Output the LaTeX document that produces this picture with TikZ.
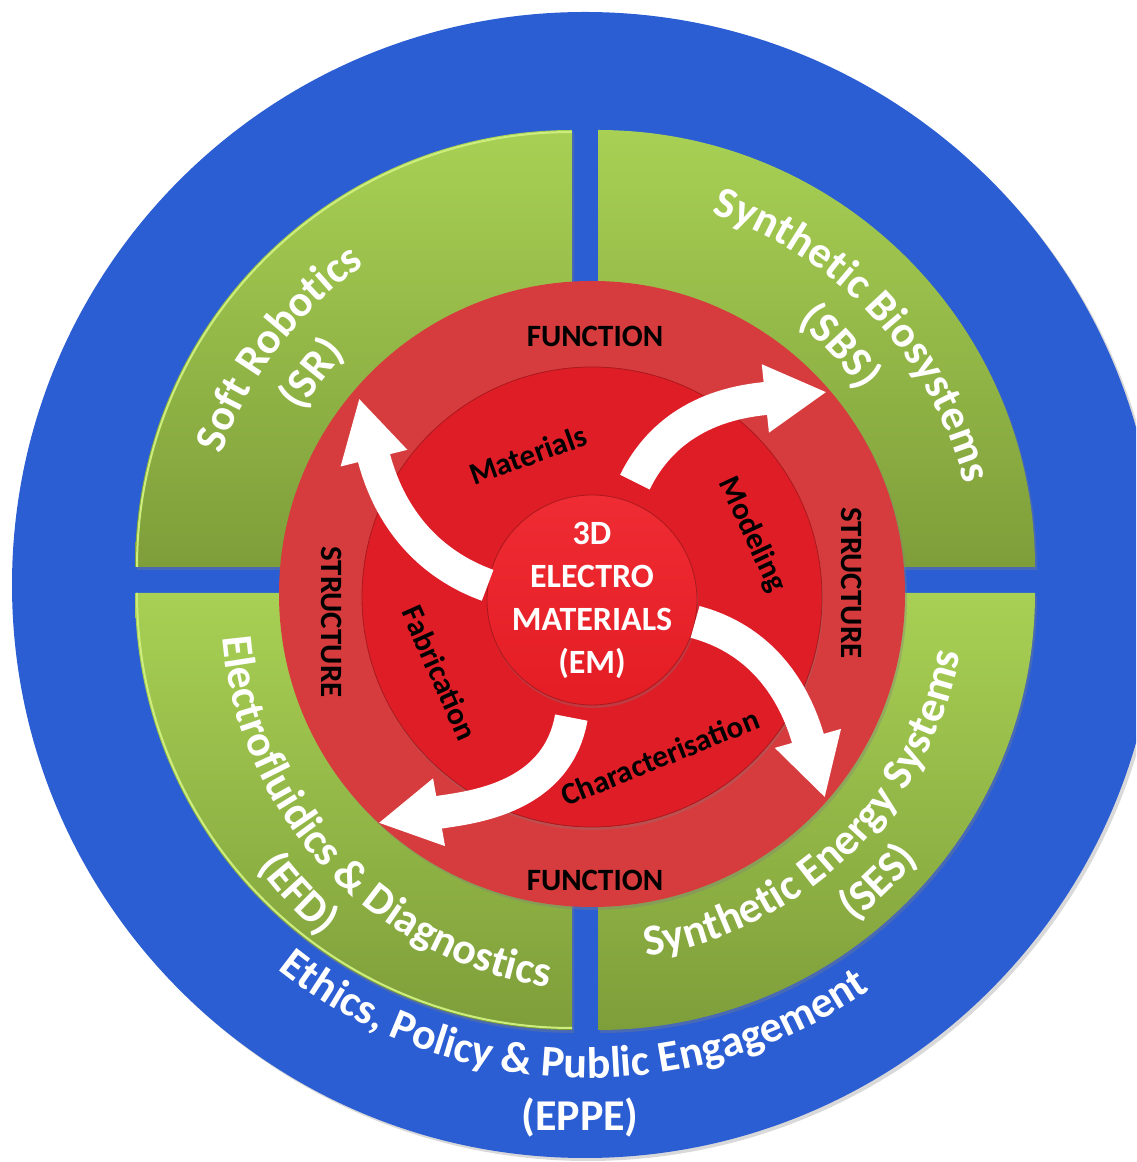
\documentclass[tikz,border=0pt]{standalone}
\usepackage{fontspec}
\setmainfont{Carlito}
\usetikzlibrary{arrows.meta,decorations.text,shadows}

\definecolor{ringblue}{RGB}{43,93,211}
\definecolor{leafhi}{RGB}{168,208,84}
\definecolor{leaflo}{RGB}{126,158,58}
\definecolor{leafedge}{RGB}{205,238,125}
\definecolor{redout}{RGB}{214,60,61}
\definecolor{redmid}{RGB}{222,29,38}
\definecolor{redcore}{RGB}{238,30,38}
\definecolor{redrim}{RGB}{170,25,30}

\newcommand\ringfont{\fontsize{44}{44}\selectfont\bfseries}
% centre, radius, start angle, end angle, text
\newcommand\ringtext[5]{%
  \path[decorate,decoration={text along path,text align=center,
    text color=white,text={|\ringfont|#5}}]
    (#1) ++(#3:#2) arc[start angle=#3,end angle=#4,radius=#2];
}

\begin{document}
\begin{tikzpicture}[x=1pt,y=1pt,
  leaf/.style={top color=leafhi, bottom color=leaflo,
    drop shadow={opacity=.35,shadow xshift=2pt,shadow yshift=-3pt}},
  rlabel/.style={font=\fontsize{31}{31}\selectfont\bfseries, text=black, inner sep=0},
  flow/.style={white, line width=33pt, -{Triangle[width=64pt,length=62pt]}}]
\useasboundingbox (0,0) rectangle (1136,1162);
\clip (0,0) rectangle (1136,1162);

% outer ring
\fill[ringblue, drop shadow={opacity=.3,shadow xshift=3pt,shadow yshift=-3pt}]
  (585,577) circle[radius=573];

% four application quadrants
\shade[leaf] (572,595) -- ++(-437,0) arc[start angle=180,end angle=90,radius=437] -- cycle;
\shade[leaf] (598,595) -- ++(437,0) arc[start angle=0,end angle=90,radius=437] -- cycle;
\shade[leaf] (572,569) -- ++(-437,0) arc[start angle=180,end angle=270,radius=437] -- cycle;
\shade[leaf] (598,569) -- ++(437,0) arc[start angle=0,end angle=-90,radius=437] -- cycle;
\draw[leafedge, line width=2pt] (137,595) arc[start angle=180,end angle=90,radius=435];
\draw[leafedge, line width=2pt] (137,569) arc[start angle=180,end angle=270,radius=435];

% red core discs
\fill[redout, drop shadow={opacity=.35,shadow xshift=2pt,shadow yshift=-3pt}]
  (592,568) circle[radius=313];
\fill[redmid, draw=redrim, line width=.8pt,
  drop shadow={opacity=.3,shadow xshift=1pt,shadow yshift=-3pt}]
  (592,565) circle[radius=230];
\node[circle, minimum size=210pt, inner sep=0, draw=redrim, line width=.8pt,
  top color=redcore!94!white, bottom color=redcore!96!black,
  drop shadow={opacity=.3,shadow xshift=1pt,shadow yshift=-3pt}] (core) at (592,562) {};
\node[font=\fontsize{34}{43}\selectfont\bfseries, text=white, align=center]
  (emLbl) at (core) {3D\\ELECTRO\\MATERIALS\\(EM)};

% arrows out of the core
\coordinate (tipSR) at (359,764);
\coordinate (tipSBS) at (827,770);
\coordinate (tipSES) at (825,364);
\coordinate (tipEFD) at (378,339);
\draw[flow] (core.172) to[out=160,in=-76] (tipSR);
\draw[flow] ([shift={(70:20)}]core.70) to[out=64,in=186] (tipSBS);
\draw[flow] (core.-12) to[out=-15,in=106] (tipSES);
\draw[flow] ([shift={(-100:14)}]core.-100) to[out=-100,in=10] (tipEFD);

% red ring labels
\node[rlabel] (funcTop) at (595,826) {FUNCTION};
\node[rlabel] (funcBot) at (595,282) {FUNCTION};
\node[rlabel, rotate=-90] (structL) at (332,540) {STRUCTURE};
\node[rlabel, rotate=-90] (structR) at (852,579) {STRUCTURE};
\node[rlabel, rotate=20] (matLbl) at (528,707) {Materials};
\node[rlabel, rotate=-65] (modLbl) at (752,627) {Modeling};
\node[rlabel, rotate=-66] (fabLbl) at (440,489) {Fabrication};
\node[rlabel, rotate=22] (charLbl) at (660,405) {Characterisation};

% curved labels
\ringtext{588,580}{388}{188}{98}{Soft Robotics}
\ringtext{588,580}{333}{188}{98}{(SR)}
\ringtext{588,580}{389}{93}{-7}{Synthetic Biosystems}
\ringtext{588,580}{333}{93}{-7}{(SBS)}
\ringtext{588,580}{379}{-106}{14}{Synthetic Energy Systems}
\ringtext{588,580}{431}{-106}{14}{(SES)}
\ringtext{607,556}{386}{163}{283}{Electrofluidics {\&} Diagnostics}
\ringtext{607,556}{436}{163}{283}{(EFD)}
\ringtext{588,580}{496}{208}{328}{Ethics, Policy {\&} Public Engagement}
\node[font=\ringfont, text=white] (eppeLbl) at (580,44) {(EPPE)};
\end{tikzpicture}
\end{document}
